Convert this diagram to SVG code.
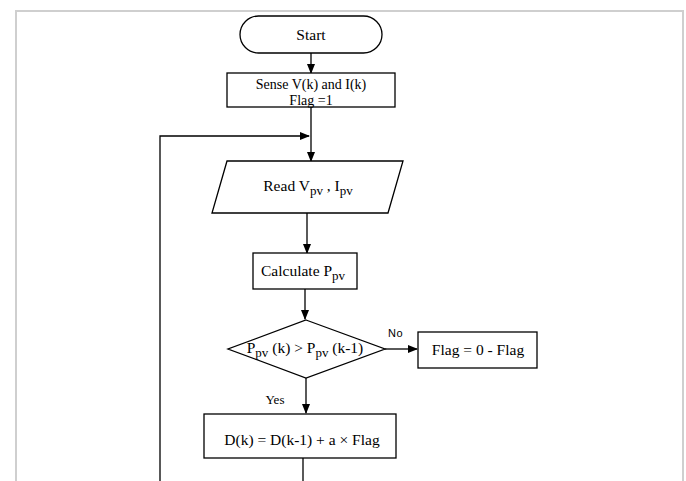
<svg xmlns="http://www.w3.org/2000/svg" width="686" height="481" viewBox="0 0 686 481">
<style>
.s{fill:#fff;stroke:#000;stroke-width:1.3}
.c{fill:none;stroke:#000;stroke-width:1.3}
.t{font-family:"Liberation Serif","Times New Roman",serif;font-size:15.5px;fill:#000;text-anchor:middle}
.sub{font-size:13px}
.n{font-family:"Liberation Sans",Arial,sans-serif;font-size:11px;fill:#000}
</style>
<defs>
<marker id="a" markerWidth="10" markerHeight="8" refX="9" refY="4" orient="auto" markerUnits="userSpaceOnUse">
<path d="M0,0 L10,4 L0,8 Z" fill="#000"/>
</marker>
</defs>
<rect x="0" y="0" width="686" height="481" fill="#fff"/>
<path d="M16,490 V11 H683 V490" fill="none" stroke="#cfcfcf" stroke-width="2"/>
<g id="connectors">
<path class="c" d="M311,53 V73" marker-end="url(#a)"/>
<path class="c" d="M311,107 V161" marker-end="url(#a)"/>
<path class="c" d="M160,481 V136 H309" marker-end="url(#a)"/>
<path class="c" d="M307,213 V253" marker-end="url(#a)"/>
<path class="c" d="M305,289 V319" marker-end="url(#a)"/>
<path class="c" d="M385,349 H417" marker-end="url(#a)"/>
<path class="c" d="M306,378 V413" marker-end="url(#a)"/>
<path class="c" d="M303,458 V481"/>
<text class="n" x="388" y="337" letter-spacing="0.5">No</text>
<text class="t" x="275" y="404" style="font-size:13px">Yes</text>
</g>
<g id="start">
<rect class="s" x="240" y="16" width="142" height="37" rx="18.5" ry="18.5"/>
<text class="t" x="311" y="40">Start</text>
</g>
<g id="sense">
<rect class="s" x="227" y="73" width="168" height="34"/>
<text class="t" x="311" y="89" style="font-size:14px">Sense V(k) and I(k)</text>
<text class="t" x="311" y="104.5" style="font-size:14px">Flag =1</text>
</g>
<g id="read">
<polygon class="s" points="227,161 403,161 388,213 212,213"/>
<text class="t" x="308" y="191">Read V<tspan class="sub" dy="4">pv</tspan><tspan dy="-4"> , I</tspan><tspan class="sub" dy="4">pv</tspan></text>
</g>
<g id="calc">
<rect class="s" x="253" y="253" width="104" height="36"/>
<text class="t" x="303" y="276">Calculate P<tspan class="sub" dy="4">pv</tspan></text>
</g>
<g id="decision">
<polygon class="s" points="306,320 385,349 306,378 228,349"/>
<text class="t" x="305" y="353">P<tspan class="sub" dy="4">pv</tspan><tspan dy="-4"> (k) &gt; P</tspan><tspan class="sub" dy="4">pv</tspan><tspan dy="-4"> (k-1)</tspan></text>
</g>
<g id="flag">
<rect class="s" x="418" y="332" width="119" height="36"/>
<text class="t" x="478" y="355">Flag = 0 - Flag</text>
</g>
<g id="update">
<rect class="s" x="204" y="414" width="192" height="44"/>
<text class="t" x="302" y="445">D(k) = D(k-1) + a × Flag</text>
</g>
</svg>
